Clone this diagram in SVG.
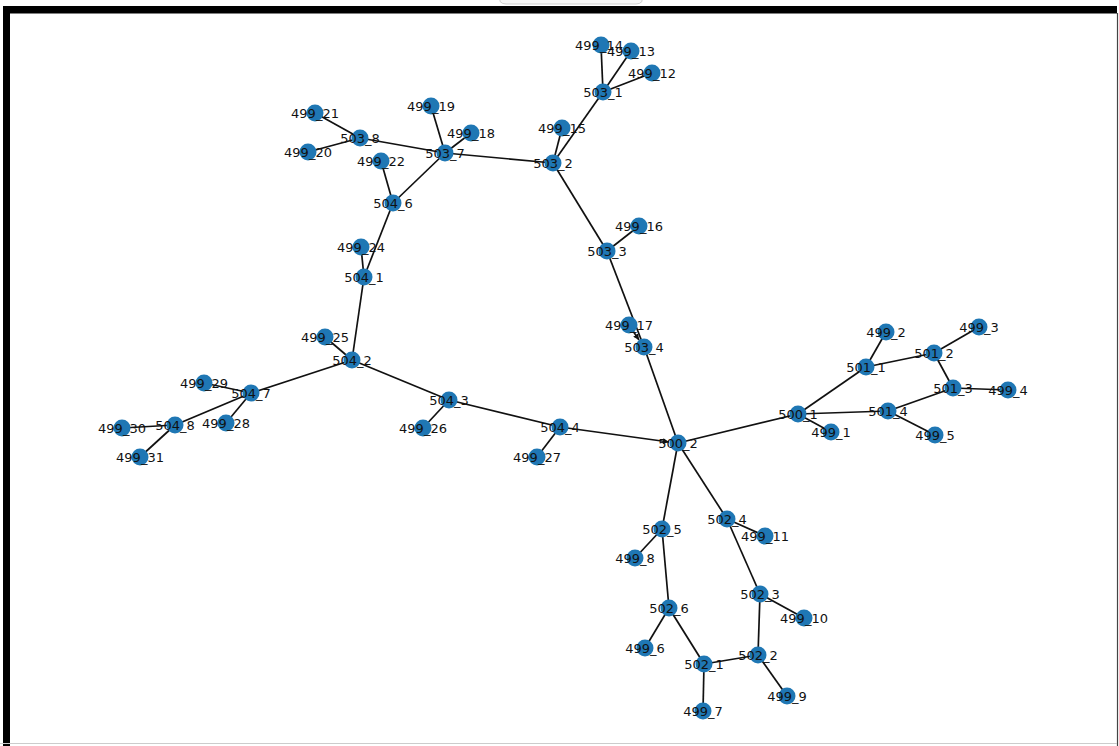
<svg xmlns="http://www.w3.org/2000/svg" width="1119" height="746" viewBox="0 0 1119 746">
<style>
.e{stroke:#111;stroke-width:1.7;fill:none}
.n circle{fill:#1f77b4}
.n text{font-family:"DejaVu Sans",sans-serif;font-size:13px;fill:#111;text-anchor:middle;dominant-baseline:central}
</style>
<defs>
<marker id="a" viewBox="0 0 10 10" refX="10" refY="5" markerWidth="6" markerHeight="6" orient="auto" markerUnits="userSpaceOnUse"><path d="M0,0L10,5L0,10z" fill="#111"/></marker>
</defs>
<rect x="0" y="0" width="1119" height="746" fill="#fff"/>
<path d="M500,0 L500,1.5 Q502,4 506,4 L636,4 Q640,4 642,1.5 L642,0" fill="#f6f6f6" stroke="#cfcfcf" stroke-width="1"/>
<rect x="3" y="6" width="1114" height="7.5" fill="#000"/>
<rect x="3" y="6" width="7" height="740" fill="#000"/>
<line x1="1117.5" y1="13" x2="1117.5" y2="746" stroke="#444" stroke-width="1.2"/>
<line x1="0" y1="743.5" x2="1117" y2="743.5" stroke="#cccccc" stroke-width="1"/>
<g id="edges">
<line class="e" x1="678" y1="443" x2="644" y2="347"/>
<line class="e" x1="560" y1="427" x2="669" y2="442" marker-end="url(#a)"/>
<line class="e" x1="678" y1="443" x2="798" y2="414"/>
<line class="e" x1="678" y1="443" x2="662" y2="529"/>
<line class="e" x1="678" y1="443" x2="727" y2="519"/>
<line class="e" x1="629" y1="325" x2="639" y2="340" marker-end="url(#a)"/>
<line class="e" x1="644" y1="347" x2="607" y2="251"/>
<line class="e" x1="607" y1="251" x2="639" y2="226"/>
<line class="e" x1="607" y1="251" x2="553" y2="163"/>
<line class="e" x1="553" y1="163" x2="603" y2="92"/>
<line class="e" x1="553" y1="163" x2="562" y2="128"/>
<line class="e" x1="553" y1="163" x2="445" y2="153"/>
<line class="e" x1="603" y1="92" x2="601" y2="45"/>
<line class="e" x1="603" y1="92" x2="631" y2="51"/>
<line class="e" x1="603" y1="92" x2="652" y2="73"/>
<line class="e" x1="445" y1="153" x2="431" y2="106"/>
<line class="e" x1="445" y1="153" x2="471" y2="133"/>
<line class="e" x1="445" y1="153" x2="360" y2="138"/>
<line class="e" x1="445" y1="153" x2="393" y2="203"/>
<line class="e" x1="360" y1="138" x2="315" y2="113"/>
<line class="e" x1="360" y1="138" x2="308" y2="152"/>
<line class="e" x1="393" y1="203" x2="381" y2="161"/>
<line class="e" x1="393" y1="203" x2="364" y2="277"/>
<line class="e" x1="364" y1="277" x2="361" y2="247"/>
<line class="e" x1="364" y1="277" x2="352" y2="360"/>
<line class="e" x1="352" y1="360" x2="325" y2="337"/>
<line class="e" x1="352" y1="360" x2="251" y2="393"/>
<line class="e" x1="352" y1="360" x2="449" y2="400"/>
<line class="e" x1="251" y1="393" x2="204" y2="383"/>
<line class="e" x1="251" y1="393" x2="226" y2="423"/>
<line class="e" x1="251" y1="393" x2="175" y2="425"/>
<line class="e" x1="175" y1="425" x2="122" y2="428"/>
<line class="e" x1="175" y1="425" x2="140" y2="457"/>
<line class="e" x1="449" y1="400" x2="423" y2="428"/>
<line class="e" x1="449" y1="400" x2="560" y2="427"/>
<line class="e" x1="560" y1="427" x2="537" y2="457"/>
<line class="e" x1="798" y1="414" x2="866" y2="367"/>
<line class="e" x1="798" y1="414" x2="888" y2="411"/>
<line class="e" x1="798" y1="414" x2="831" y2="432"/>
<line class="e" x1="866" y1="367" x2="886" y2="332"/>
<line class="e" x1="866" y1="367" x2="934" y2="353"/>
<line class="e" x1="934" y1="353" x2="979" y2="327"/>
<line class="e" x1="934" y1="353" x2="953" y2="388"/>
<line class="e" x1="953" y1="388" x2="1008" y2="390"/>
<line class="e" x1="953" y1="388" x2="888" y2="411"/>
<line class="e" x1="888" y1="411" x2="935" y2="435"/>
<line class="e" x1="662" y1="529" x2="635" y2="558"/>
<line class="e" x1="662" y1="529" x2="669" y2="608"/>
<line class="e" x1="669" y1="608" x2="645" y2="648"/>
<line class="e" x1="669" y1="608" x2="704" y2="664"/>
<line class="e" x1="704" y1="664" x2="703" y2="711"/>
<line class="e" x1="704" y1="664" x2="758" y2="655"/>
<line class="e" x1="758" y1="655" x2="787" y2="696"/>
<line class="e" x1="758" y1="655" x2="760" y2="594"/>
<line class="e" x1="760" y1="594" x2="804" y2="618"/>
<line class="e" x1="760" y1="594" x2="727" y2="519"/>
<line class="e" x1="727" y1="519" x2="765" y2="536"/>
</g>
<g id="n499_14" class="n"><circle cx="601" cy="45" r="8.5"/><text x="599" y="45">499_14</text></g>
<g id="n499_13" class="n"><circle cx="631" cy="51" r="8.5"/><text x="631" y="51">499_13</text></g>
<g id="n499_12" class="n"><circle cx="652" cy="73" r="8.5"/><text x="652" y="73">499_12</text></g>
<g id="n503_1" class="n"><circle cx="603" cy="92" r="8.5"/><text x="603" y="92">503_1</text></g>
<g id="n499_21" class="n"><circle cx="315" cy="113" r="8.5"/><text x="315" y="113">499_21</text></g>
<g id="n499_19" class="n"><circle cx="431" cy="106" r="8.5"/><text x="431" y="106">499_19</text></g>
<g id="n503_8" class="n"><circle cx="360" cy="138" r="8.5"/><text x="360" y="138">503_8</text></g>
<g id="n499_18" class="n"><circle cx="471" cy="133" r="8.5"/><text x="471" y="133">499_18</text></g>
<g id="n499_15" class="n"><circle cx="562" cy="128" r="8.5"/><text x="562" y="128">499_15</text></g>
<g id="n499_20" class="n"><circle cx="308" cy="152" r="8.5"/><text x="308" y="152">499_20</text></g>
<g id="n499_22" class="n"><circle cx="381" cy="161" r="8.5"/><text x="381" y="161">499_22</text></g>
<g id="n503_7" class="n"><circle cx="445" cy="153" r="8.5"/><text x="445" y="153">503_7</text></g>
<g id="n503_2" class="n"><circle cx="553" cy="163" r="8.5"/><text x="553" y="163">503_2</text></g>
<g id="n504_6" class="n"><circle cx="393" cy="203" r="8.5"/><text x="393" y="203">504_6</text></g>
<g id="n499_16" class="n"><circle cx="639" cy="226" r="8.5"/><text x="639" y="226">499_16</text></g>
<g id="n499_24" class="n"><circle cx="361" cy="247" r="8.5"/><text x="361" y="247">499_24</text></g>
<g id="n503_3" class="n"><circle cx="607" cy="251" r="8.5"/><text x="607" y="251">503_3</text></g>
<g id="n504_1" class="n"><circle cx="364" cy="277" r="8.5"/><text x="364" y="277">504_1</text></g>
<g id="n499_17" class="n"><circle cx="629" cy="325" r="8.5"/><text x="629" y="325">499_17</text></g>
<g id="n499_25" class="n"><circle cx="325" cy="337" r="8.5"/><text x="325" y="337">499_25</text></g>
<g id="n503_4" class="n"><circle cx="644" cy="347" r="8.5"/><text x="644" y="347">503_4</text></g>
<g id="n504_2" class="n"><circle cx="352" cy="360" r="8.5"/><text x="352" y="360">504_2</text></g>
<g id="n499_29" class="n"><circle cx="204" cy="383" r="8.5"/><text x="204" y="383">499_29</text></g>
<g id="n504_7" class="n"><circle cx="251" cy="393" r="8.5"/><text x="251" y="393">504_7</text></g>
<g id="n504_3" class="n"><circle cx="449" cy="400" r="8.5"/><text x="449" y="400">504_3</text></g>
<g id="n504_8" class="n"><circle cx="175" cy="425" r="8.5"/><text x="175" y="425">504_8</text></g>
<g id="n499_28" class="n"><circle cx="226" cy="423" r="8.5"/><text x="226" y="423">499_28</text></g>
<g id="n499_30" class="n"><circle cx="122" cy="428" r="8.5"/><text x="122" y="428">499_30</text></g>
<g id="n499_26" class="n"><circle cx="423" cy="428" r="8.5"/><text x="423" y="428">499_26</text></g>
<g id="n504_4" class="n"><circle cx="560" cy="427" r="8.5"/><text x="560" y="427">504_4</text></g>
<g id="n499_27" class="n"><circle cx="537" cy="457" r="8.5"/><text x="537" y="457">499_27</text></g>
<g id="n499_31" class="n"><circle cx="140" cy="457" r="8.5"/><text x="140" y="457">499_31</text></g>
<g id="n500_2" class="n"><circle cx="678" cy="443" r="8.5"/><text x="678" y="443">500_2</text></g>
<g id="n500_1" class="n"><circle cx="798" cy="414" r="8.5"/><text x="798" y="414">500_1</text></g>
<g id="n499_1" class="n"><circle cx="831" cy="432" r="8.5"/><text x="831" y="432">499_1</text></g>
<g id="n501_1" class="n"><circle cx="866" cy="367" r="8.5"/><text x="866" y="367">501_1</text></g>
<g id="n499_2" class="n"><circle cx="886" cy="332" r="8.5"/><text x="886" y="332">499_2</text></g>
<g id="n501_2" class="n"><circle cx="934" cy="353" r="8.5"/><text x="934" y="353">501_2</text></g>
<g id="n499_3" class="n"><circle cx="979" cy="327" r="8.5"/><text x="979" y="327">499_3</text></g>
<g id="n501_3" class="n"><circle cx="953" cy="388" r="8.5"/><text x="953" y="388">501_3</text></g>
<g id="n499_4" class="n"><circle cx="1008" cy="390" r="8.5"/><text x="1008" y="390">499_4</text></g>
<g id="n501_4" class="n"><circle cx="888" cy="411" r="8.5"/><text x="888" y="411">501_4</text></g>
<g id="n499_5" class="n"><circle cx="935" cy="435" r="8.5"/><text x="935" y="435">499_5</text></g>
<g id="n502_5" class="n"><circle cx="662" cy="529" r="8.5"/><text x="662" y="529">502_5</text></g>
<g id="n502_4" class="n"><circle cx="727" cy="519" r="8.5"/><text x="727" y="519">502_4</text></g>
<g id="n499_11" class="n"><circle cx="765" cy="536" r="8.5"/><text x="765" y="536">499_11</text></g>
<g id="n499_8" class="n"><circle cx="635" cy="558" r="8.5"/><text x="635" y="558">499_8</text></g>
<g id="n502_3" class="n"><circle cx="760" cy="594" r="8.5"/><text x="760" y="594">502_3</text></g>
<g id="n499_10" class="n"><circle cx="804" cy="618" r="8.5"/><text x="804" y="618">499_10</text></g>
<g id="n502_6" class="n"><circle cx="669" cy="608" r="8.5"/><text x="669" y="608">502_6</text></g>
<g id="n499_6" class="n"><circle cx="645" cy="648" r="8.5"/><text x="645" y="648">499_6</text></g>
<g id="n502_1" class="n"><circle cx="704" cy="664" r="8.5"/><text x="704" y="664">502_1</text></g>
<g id="n502_2" class="n"><circle cx="758" cy="655" r="8.5"/><text x="758" y="655">502_2</text></g>
<g id="n499_9" class="n"><circle cx="787" cy="696" r="8.5"/><text x="787" y="696">499_9</text></g>
<g id="n499_7" class="n"><circle cx="703" cy="711" r="8.5"/><text x="703" y="711">499_7</text></g>
</svg>
